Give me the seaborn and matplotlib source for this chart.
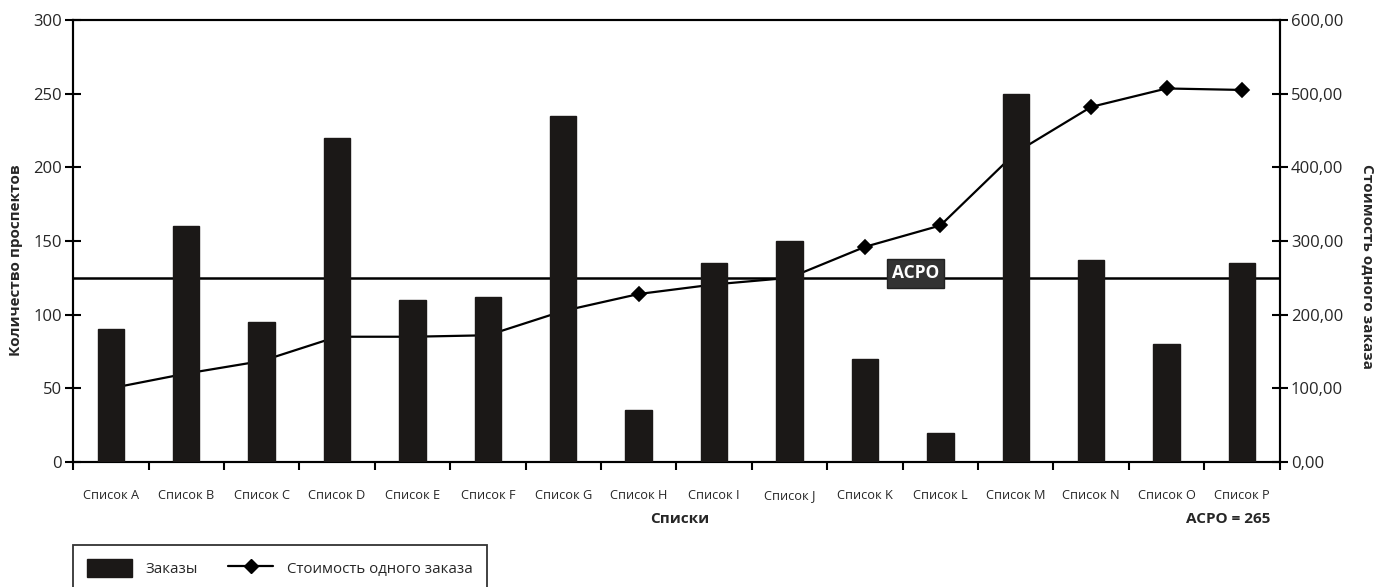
import numpy as np
import pandas as pd
import matplotlib
matplotlib.use("Agg")
import matplotlib.pyplot as plt
import seaborn as sns
from matplotlib.patches import Patch
from matplotlib.lines import Line2D
from matplotlib.ticker import FuncFormatter, FixedLocator

# ---- data ----
categories = ["Список A", "Список B", "Список C", "Список D", "Список E", "Список F",
              "Список G", "Список H", "Список I", "Список J", "Список K", "Список L",
              "Список M", "Список N", "Список O", "Список P"]
orders = [90, 160, 95, 220, 110, 112, 235, 35, 135, 150, 70, 20, 250, 137, 80, 135]
cost_per_order = [100, 120, 137, 170, 170, 172, 205, 228, 241, 250, 292, 321, 420, 482, 507, 505]
acpo_level = 125  # on left axis (= 250 on right axis)
left_ticks = [0, 50, 100, 150, 200, 250, 300]
right_ticks = [0, 100, 200, 300, 400, 500, 600]

sns.set_theme(style="white")
plt.rcParams['font.family'] = ['Open Sans', 'DejaVu Sans']

fig = plt.figure(figsize=(13.79, 5.87), dpi=100)
ax = fig.add_axes([0.053, 0.213, 0.875, 0.753])
ax2 = ax.twinx()

df = pd.DataFrame({"cat": categories, "orders": orders, "cost": cost_per_order})

sns.barplot(data=df, x="cat", y="orders", ax=ax, color="#1b1817", width=0.35,
            saturation=1, edgecolor="#1b1817", zorder=3)
sns.pointplot(data=df, x="cat", y="cost", ax=ax2, color="black", markers="D",
              markersize=7, linewidth=1.6, zorder=2)

# line behind bars
ax.set_zorder(ax2.get_zorder() + 1)
ax.patch.set_visible(False)

ax.axhline(acpo_level, color="black", lw=1.8, zorder=1)

ax.set_xlim(-0.5, len(categories) - 0.5)
ax.set_ylim(0, 300)
ax2.set_ylim(0, 600)
ax2.set_xlim(-0.5, len(categories) - 0.5)

ax.set_yticks(left_ticks)
ax2.set_yticks(right_ticks)
ax2.yaxis.set_major_formatter(FuncFormatter(lambda v, p: f"{v:.2f}".replace(".", ",")))

for a in (ax, ax2):
    for s in a.spines.values():
        s.set_color("black")
        s.set_linewidth(1.5)
    a.grid(False)
    a.set_xlabel("")
    a.set_ylabel("")

ax.set_xticks(range(len(categories)))
ax.set_xticklabels(categories, fontsize=9.2)
ax.xaxis.set_minor_locator(FixedLocator(np.arange(-0.5, len(categories), 1.0)))
ax.tick_params(axis="x", which="major", length=0, pad=27)
ax.tick_params(axis="x", which="minor", length=6, width=1.5, direction="out", color="black", bottom=True)
ax.tick_params(axis="y", which="major", length=12, width=1.5, direction="inout", color="black",
               labelsize=12, left=True, pad=2)
ax2.tick_params(axis="y", which="major", length=12, width=1.5, direction="inout", color="black",
                labelsize=12, right=True, pad=2)
ax2.tick_params(axis="x", length=0, labelbottom=False)
for tick in ax.xaxis.get_major_ticks():
    tick.label1.set_verticalalignment("baseline")

fig.text(16 / 1379, 1 - 260 / 587, "Количество проспектов", rotation=90, ha="center", va="center",
         fontsize=11, fontweight="bold")
fig.text(1367 / 1379, 1 - 267 / 587, "Стоимость одного заказа", rotation=-90, ha="center", va="center",
         fontsize=11, fontweight="bold")

ax.text(10.67, acpo_level + 3, "ACPO", ha="center", va="center", color="white", fontsize=12.5,
        fontweight="bold", zorder=5,
        bbox=dict(boxstyle="square,pad=0.3", facecolor="#333333", edgecolor="#222222"))

fig.text(680 / 1379, 1 - 519 / 587, "Списки", ha="center", va="center", fontsize=11, fontweight="bold")
fig.text(1228 / 1379, 1 - 519 / 587, "ACPO = 265", ha="center", va="center", fontsize=11, fontweight="bold")

handles = [Patch(facecolor="#1b1817", edgecolor="#1b1817"),
           Line2D([0], [0], color="black", lw=1.6, marker="D", markersize=7)]
leg = fig.legend(handles, ["Заказы", "Стоимость одного заказа"], loc="upper left",
                 bbox_to_anchor=(73 / 1379, 1 - 545 / 587), ncol=2, frameon=True, fancybox=False,
                 fontsize=10.8, handlelength=3.0, handleheight=1.4, columnspacing=2.0,
                 borderpad=0.95, handletextpad=0.9, borderaxespad=0)
leg.get_frame().set_edgecolor("black")
leg.get_frame().set_linewidth(1.3)

fig.savefig("out.png", dpi=100, facecolor="white")
